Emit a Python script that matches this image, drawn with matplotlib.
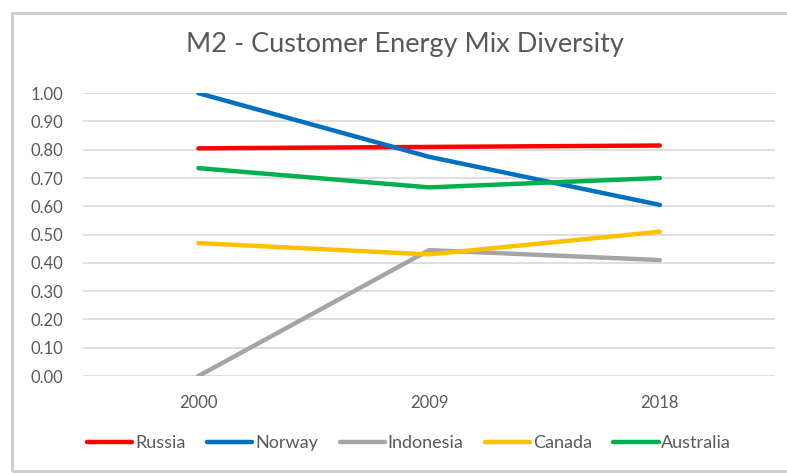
import matplotlib
matplotlib.use("Agg")
import matplotlib.pyplot as plt
from matplotlib.patches import Rectangle

# data
years = ["2000", "2009", "2018"]
russia = [0.805, 0.81, 0.815]
norway = [1.00, 0.775, 0.605]
indonesia = [0.00, 0.445, 0.41]
canada = [0.47, 0.43, 0.51]
australia = [0.735, 0.667, 0.70]
yticks = [0.0, 0.1, 0.2, 0.3, 0.4, 0.5, 0.6, 0.7, 0.8, 0.9, 1.0]

series = [
    ("Russia", russia, "#FF0000"),
    ("Norway", norway, "#0070C0"),
    ("Indonesia", indonesia, "#A5A5A5"),
    ("Canada", canada, "#FFC000"),
    ("Australia", australia, "#00B050"),
]

plt.rcParams["font.family"] = ["Lato", "DejaVu Sans"]
txt = "#595959"

fig = plt.figure(figsize=(7.87, 4.73), dpi=100)
ax = fig.add_axes([0.1055, 0.205, 0.8795, 0.598])

x = list(range(len(years)))
for name, vals, col in series:
    ax.plot(x, vals, color=col, lw=3.2, solid_capstyle="round", label=name)

ax.set_xlim(-0.5, len(years) - 0.5)
ax.set_ylim(0, 1.0)
ax.set_yticks(yticks)
ax.set_yticklabels([f"{v:.2f}" for v in yticks])
ax.set_xticks(x)
ax.set_xticklabels(years)
ax.yaxis.grid(True, color="#d9d9d9", lw=1.2)
ax.set_axisbelow(True)
for s in ax.spines.values():
    s.set_visible(False)
ax.tick_params(length=0, labelsize=12, colors=txt, pad=14)
ax.tick_params(axis="x", pad=14)

fig.text(0.515, 0.905, "M2 - Customer Energy Mix Diversity", ha="center",
         va="center", fontsize=19.5, color=txt)

leg = fig.legend(loc="center", bbox_to_anchor=(0.52, 0.063), ncol=5,
                 frameon=False, fontsize=13, handlelength=2.5,
                 handletextpad=0.15, columnspacing=1.2)
for t in leg.get_texts():
    t.set_color(txt)

fig.patches.append(Rectangle((12 / 787, 2 / 473), 1.2, 458 / 473,
                             transform=fig.transFigure, fill=False,
                             edgecolor="#d0d0d0", lw=2.2))

fig.savefig("out.png", dpi=100, facecolor="white")
